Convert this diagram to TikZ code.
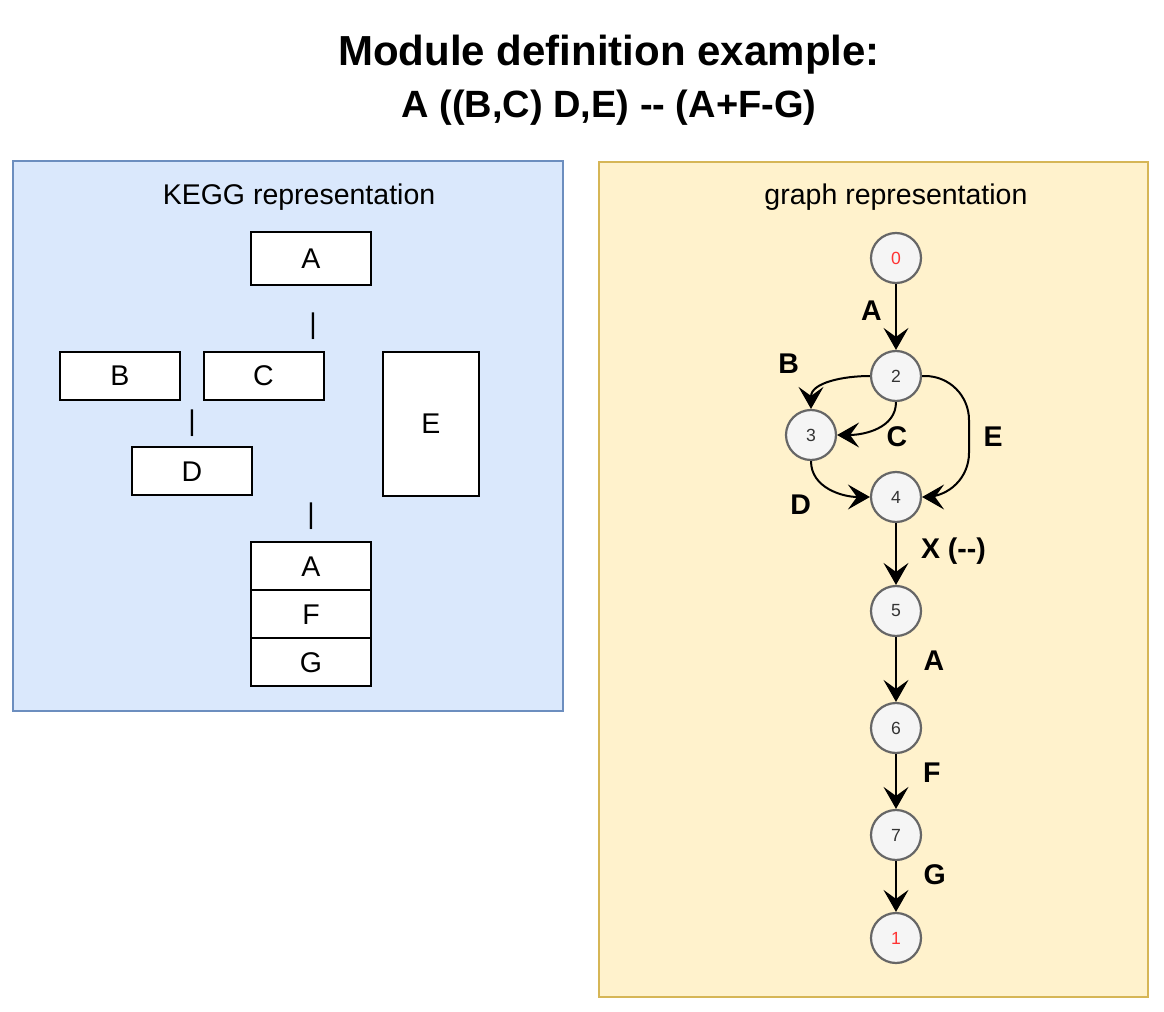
\documentclass[tikz,border=0pt]{standalone}
\usepackage{fontspec}
\setmainfont{Liberation Sans}
\usepackage{xcolor}
\usetikzlibrary{arrows.meta, calc, positioning}

\definecolor{keggfill}{HTML}{DAE8FC}
\definecolor{keggline}{HTML}{6C8EBF}
\definecolor{graphfill}{HTML}{FFF2CC}
\definecolor{graphline}{HTML}{D6B656}
\definecolor{vertfill}{HTML}{F5F5F5}
\definecolor{vertline}{HTML}{666666}
\definecolor{vertred}{HTML}{FF3333}

\begin{document}
\begin{tikzpicture}[x=0.5pt, y=-0.5pt,
        panel/.style={draw, line width=0.75pt, inner sep=0pt, anchor=north west},
        txt/.style={font=\fontsize{14.25}{17}\selectfont, inner sep=0pt},
        gene/.style={txt, draw=black, fill=white, line width=1pt, minimum width=60pt, minimum height=24pt},
        vert/.style={circle, draw=vertline, fill=vertfill, line width=1.1pt, minimum size=25pt, inner sep=0pt, font=\fontsize{8.8}{10}\selectfont, text=black!80},
        edge/.style={-{Stealth[length=11pt, width=12.5pt, inset=4.5pt]}, line width=1pt},
        lbl/.style={font=\bfseries\fontsize{14.25}{17}\selectfont, inner sep=0pt}]
    \useasboundingbox (0,0) rectangle (1164,1012);

    \node[font=\bfseries\fontsize{21}{24}\selectfont, anchor=base] (t1) at (609,65) {Module definition example:};
    \node[font=\bfseries\fontsize{19}{24}\selectfont, anchor=base] (t2) at (609,117) {A ((B,C) D,E) -{}- (A+F-G)};

    % KEGG side
    \node[panel, draw=keggline, fill=keggfill, minimum width=275pt, minimum height=275pt] (kegg) at (12,160) {};
    \node[txt, anchor=base] (kt) at (299,204) {KEGG representation};
    \node[gene, minimum height=26.5pt] (gA) at (311,258.5) {A};
    \node[txt] (bar1) at (313,326) {|};
    \node[gene] (gB) at (120,375.5) {B};
    \node[gene] (gC) at (263.5,375.5) {C};
    \node[gene, minimum width=48pt, minimum height=71.8pt] (gE) at (431,423.8) {E};
    \node[txt] (bar2) at (192,423) {|};
    \node[gene] (gD) at (192,471.3) {D};
    \node[txt] (bar3) at (311,516.5) {|};
    \node[gene] (gA2) at (311,566.3) {A};
    \node[gene] (gF) at (311,614.3) {F};
    \node[gene] (gG) at (311,662.3) {G};

    % graph side
    \node[panel, draw=graphline, fill=graphfill, minimum width=274.5pt, minimum height=417.5pt] (graph) at (598,161) {};
    \node[txt, anchor=base] (gt) at (896,204) {graph representation};
    \node[vert, text=vertred] (n0) at (896,258) {0};
    \node[vert] (n2) at (896,376) {2};
    \node[vert] (n3) at (811,435) {3};
    \node[vert] (n4) at (896,497) {4};
    \node[vert] (n5) at (896,611) {5};
    \node[vert] (n6) at (896,728) {6};
    \node[vert] (n7) at (896,835) {7};
    \node[vert, text=vertred] (n1) at (896,938) {1};

    \draw
    (n0) edge[edge] node[lbl, left=6.6pt, yshift=3pt] (lA) {A} (n2)
    (n2.west) edge[edge, out=180, in=90] node[lbl, xshift=-21pt, yshift=9.2pt] (lB) {B} (n3.north)
    (n2.south) edge[edge, out=-90, in=0] node[lbl, xshift=10.3pt, yshift=-3.95pt] (lC) {C} (n3.east)
    (n3.south) edge[edge, out=-90, in=180] node[lbl, xshift=-14.85pt, yshift=-7.55pt] (lD) {D} (n4.west)
    (n4) edge[edge] node[lbl, right=12pt, yshift=1.5pt] (lX) {X (-{}-)} (n5)
    (n5) edge[edge] node[lbl, right=13.3pt, yshift=4.2pt] (lA2) {A} (n6)
    (n6) edge[edge] node[lbl, right=13pt, yshift=4.2pt] (lF) {F} (n7)
    (n7) edge[edge] node[lbl, right=13.3pt, yshift=5.7pt] (lG) {G} (n1);
    \draw[edge] (n2.east) [rounded corners=22pt] -| node[lbl, pos=0.75, right=6.75pt] (lE) {E} ($(n4)+(73,0)$) [rounded corners=7pt] -- (n4.east);
\end{tikzpicture}
\end{document}
